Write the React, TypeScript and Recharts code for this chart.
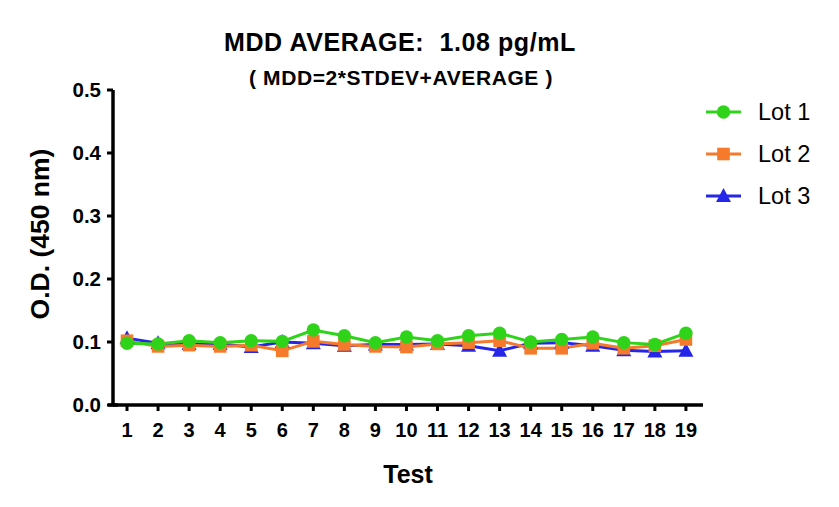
import { Legend, Line, LineChart, ReferenceLine, XAxis, YAxis } from "recharts";

// MDD test: O.D. at 450 nm for three lots, 19 repeats
const tests = [1, 2, 3, 4, 5, 6, 7, 8, 9, 10, 11, 12, 13, 14, 15, 16, 17, 18, 19];
const lot1 = [0.098, 0.097, 0.102, 0.099, 0.102, 0.101, 0.119, 0.11, 0.099, 0.108, 0.102, 0.11, 0.114, 0.1, 0.104, 0.108, 0.099, 0.096, 0.114];
const lot2 = [0.102, 0.093, 0.095, 0.093, 0.095, 0.086, 0.101, 0.096, 0.093, 0.092, 0.097, 0.099, 0.102, 0.09, 0.09, 0.098, 0.09, 0.094, 0.104];
const lot3 = [0.106, 0.098, 0.097, 0.097, 0.092, 0.1, 0.098, 0.094, 0.096, 0.096, 0.097, 0.094, 0.086, 0.098, 0.099, 0.094, 0.087, 0.085, 0.086];
const yTicks = [0, 0.1, 0.2, 0.3, 0.4, 0.5];
const seriesNames = ["Lot 1", "Lot 2", "Lot 3"];

const GREEN = "#2fd41a";
const ORANGE = "#f57a2c";
const BLUE = "#2626e8";
const FONT = "'Liberation Sans', Arial, Helvetica, sans-serif";

const data = tests.map((t, i) => ({ test: t, lot1: lot1[i], lot2: lot2[i], lot3: lot3[i] }));

type Marker = "circle" | "square" | "triangle";

function MarkerShape({ cx, cy, kind, color }: { cx: number; cy: number; kind: Marker; color: string }) {
  if (kind === "circle") return <circle cx={cx} cy={cy} r={6.7} fill={color} />;
  if (kind === "square") return <rect x={cx - 6.3} y={cy - 6.3} width={12.6} height={12.6} fill={color} />;
  return <polygon points={`${cx},${cy - 8} ${cx + 7.5},${cy + 6} ${cx - 7.5},${cy + 6}`} fill={color} />;
}

const dotFor = (kind: Marker, color: string) => (props: any) => {
  const { cx, cy, index } = props;
  if (cx == null || cy == null) return <g key={index} />;
  return <MarkerShape key={index} cx={cx} cy={cy} kind={kind} color={color} />;
};

const legendItems: { name: string; kind: Marker; color: string }[] = [
  { name: seriesNames[0], kind: "circle", color: GREEN },
  { name: seriesNames[1], kind: "square", color: ORANGE },
  { name: seriesNames[2], kind: "triangle", color: BLUE },
];

function LegendBox() {
  return (
    <div style={{ width: 130, fontFamily: FONT }}>
      {legendItems.map((it) => (
        <div key={it.name} style={{ display: "flex", alignItems: "center", height: 42 }}>
          <svg width={40} height={24} style={{ display: "block" }}>
            <line x1={2} y1={12} x2={37} y2={12} stroke={it.color} strokeWidth={3} />
            <MarkerShape cx={19.5} cy={12} kind={it.kind} color={it.color} />
          </svg>
          <span style={{ marginLeft: 14, fontSize: 23.5, color: "#000" }}>{it.name}</span>
        </div>
      ))}
    </div>
  );
}

export default function App() {
  return (
    <div style={{ position: "relative", width: 839, height: 507, background: "#fff", fontFamily: FONT }}>
      <style>{`body{margin:0}`}</style>
      <div
        style={{
          position: "absolute", left: 0, width: 800, top: 30, textAlign: "center",
          fontSize: 25, lineHeight: "25px", fontWeight: 700, letterSpacing: 0.6, whiteSpace: "pre",
        }}
      >
        {"MDD AVERAGE:  1.08 pg/mL"}
      </div>
      <div
        style={{
          position: "absolute", left: 0, width: 802, top: 67, textAlign: "center",
          fontSize: 21, lineHeight: "21px", fontWeight: 700, letterSpacing: 0.6, whiteSpace: "pre",
        }}
      >
        {"( MDD=2*STDEV+AVERAGE )"}
      </div>
      <LineChart
        width={839}
        height={507}
        data={data}
        margin={{ top: 90, right: 6, bottom: 24, left: 0 }}
        style={{ position: "absolute", left: 0, top: 0 }}
      >
        <XAxis
          dataKey="test"
          type="number"
          domain={[0.549, 19.55]}
          ticks={tests}
          interval={0}
          height={78}
          tickSize={6}
          tickMargin={12}
          axisLine={{ stroke: "#000", strokeWidth: 3.5 }}
          tickLine={{ stroke: "#000", strokeWidth: 3 }}
          tick={{ fill: "#000", fontSize: 20, fontWeight: 700, fontFamily: FONT }}
          label={{ value: "Test", position: "insideBottom", offset: 0, fill: "#000", fontSize: 25, fontWeight: 700, fontFamily: FONT }}
        />
        <YAxis
          domain={[0, 0.5]}
          ticks={yTicks}
          width={113}
          tickSize={6}
          tickMargin={6}
          tickFormatter={(v: number) => v.toFixed(1)}
          axisLine={{ stroke: "#000", strokeWidth: 3.5 }}
          tickLine={{ stroke: "#000", strokeWidth: 3 }}
          tick={{ fill: "#000", fontSize: 20.5, fontWeight: 700, fontFamily: FONT }}
          label={{
            content: () => (
              <text
                x={40}
                y={234}
                transform="rotate(-90 40 234)"
                textAnchor="middle"
                dominantBaseline="central"
                fill="#000"
                style={{ fontSize: 26.5, fontWeight: 700, fontFamily: FONT }}
              >
                O.D. (450 nm)
              </text>
            ),
          }}
        />
        <ReferenceLine
          segment={[{ x: 0.39, y: 0 }, { x: 0.7, y: 0 }]}
          ifOverflow="visible"
          stroke="#000"
          strokeWidth={3.5}
        />
        <Legend
          layout="vertical"
          align="right"
          verticalAlign="top"
          wrapperStyle={{ position: "absolute", top: 91, left: 704, width: 130 }}
          content={() => <LegendBox />}
        />
        <Line dataKey="lot3" name={seriesNames[2]} stroke={BLUE} strokeWidth={3} dot={dotFor("triangle", BLUE)} activeDot={false} isAnimationActive={false} />
        <Line dataKey="lot2" name={seriesNames[1]} stroke={ORANGE} strokeWidth={3} dot={dotFor("square", ORANGE)} activeDot={false} isAnimationActive={false} />
        <Line dataKey="lot1" name={seriesNames[0]} stroke={GREEN} strokeWidth={3} dot={dotFor("circle", GREEN)} activeDot={false} isAnimationActive={false} />
      </LineChart>
    </div>
  );
}
